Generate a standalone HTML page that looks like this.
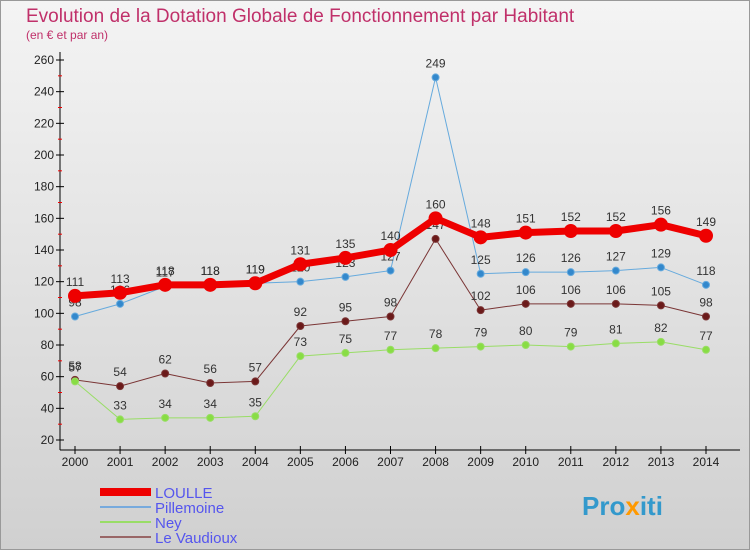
<!DOCTYPE html>
<html><head><meta charset="utf-8"><style>
body{margin:0;}
svg{display:block;font-family:"Liberation Sans",sans-serif;}
</style></head><body>
<svg width="750" height="550" viewBox="0 0 750 550">
<defs>
<linearGradient id="bg" x1="0" y1="0" x2="0" y2="1">
<stop offset="0" stop-color="#f4f4f4"/><stop offset="1" stop-color="#d0d0d0"/>
</linearGradient>
</defs>
<rect x="0.5" y="0.5" width="749" height="549" fill="url(#bg)" stroke="#999"/>
<text x="26" y="22" font-size="19" fill="#c0306a">Evolution de la Dotation Globale de Fonctionnement par Habitant</text>
<text x="26" y="39" font-size="12" fill="#c0306a">(en € et par an)</text>
<g id="axes"></g>
<g id="series"></g>
<g id="legend"></g>
<text x="582" y="515" font-size="26" font-weight="bold" fill="#3399cc">Pro<tspan fill="#ff9900">x</tspan>iti</text>
</svg>
<script>
const years=[2000,2001,2002,2003,2004,2005,2006,2007,2008,2009,2010,2011,2012,2013,2014];
const loulle=[111,113,118,118,119,131,135,140,160,148,151,152,152,156,149];
const pillemoine=[98,106,117,118,119,120,123,127,249,125,126,126,127,129,118];
const ney=[57,33,34,34,35,73,75,77,78,79,80,79,81,82,77];
const vaudioux=[58,54,62,56,57,92,95,98,147,102,106,106,106,105,98];
const yTicks=[20,40,60,80,100,120,140,160,180,200,220,240,260];
const NS="http://www.w3.org/2000/svg";
function X(i){return 75+i*(706-75)/14;}
function Y(v){return 440-(v-20)*380/240;}
function mk(t,a,p){const e=document.createElementNS(NS,t);for(const k in a)e.setAttribute(k,a[k]);p.appendChild(e);return e;}
const ax=document.getElementById('axes');
const yl=mk('line',{x1:60,y1:52,x2:60,y2:450,stroke:'#000'},ax);


const xl=mk('line',{x1:60,y1:450,x2:740,y2:450,stroke:'#000'},ax);


yTicks.forEach((v,i)=>{
  mk('line',{x1:56,y1:Y(v),x2:64,y2:Y(v),stroke:'#000'},ax);
  if(i<yTicks.length-1)mk('line',{x1:58,y1:Y(v+10),x2:62,y2:Y(v+10),stroke:'#e00'},ax);
  const t=mk('text',{x:54,y:Y(v)+4,'font-size':12,'text-anchor':'end',fill:'#222'},ax);
  t.textContent=v;
  
  
});
years.forEach((yr,i)=>{
  mk('line',{x1:X(i),y1:446,x2:X(i),y2:454,stroke:'#000'},ax);
  const t=mk('text',{x:X(i),y:466,'font-size':12,'text-anchor':'middle',fill:'#222'},ax);
  t.textContent=yr;
  
  
});
const sg=document.getElementById('series');
function draw(data,color,lw,r,name,lineColor){
  const g=mk('g',{},sg);
  
  
  mk('polyline',{points:data.map((v,i)=>X(i)+','+Y(v)).join(' '),fill:'none',stroke:lineColor,'stroke-width':lw,'stroke-linejoin':'round'},g);
  data.forEach((v,i)=>{
    const c=mk('circle',{cx:X(i),cy:Y(v),r:r,fill:color,stroke:lineColor,'stroke-width':1},g);
    
    
    const t=mk('text',{x:X(i),y:Y(v)-10,'font-size':12,'text-anchor':'middle',fill:'#333'},g);
    t.textContent=v;
    
    
  });
}
draw(vaudioux,'#6b1a1a',1,3.5,'le-vaudioux','#7a3535');
draw(ney,'#88dd44',1,3.5,'ney','#99dd66');
draw(pillemoine,'#3388cc',1,3.5,'pillemoine','#66aadd');
draw(loulle,'#ee0000',7,6.5,'loulle','#ee0000');
sg.querySelectorAll('g')[2].querySelectorAll('circle').forEach(c=>c.setAttribute('r',3.5));
const lg=document.getElementById('legend');
const items=[['LOULLE','#ee0000',8],['Pillemoine','#77aadd',2],['Ney','#99dd66',2],['Le Vaudioux','#996666',2]];
items.forEach((it,i)=>{
  const y=492+i*15;
  const e=mk('g',{},lg);
  
  
  mk('line',{x1:100,y1:y,x2:151,y2:y,stroke:it[1],'stroke-width':it[2]},e);
  const t=mk('text',{x:155,y:y+6,'font-size':15,fill:'#5555ee'},e);
  t.textContent=it[0];
});
</script>
</body></html>
